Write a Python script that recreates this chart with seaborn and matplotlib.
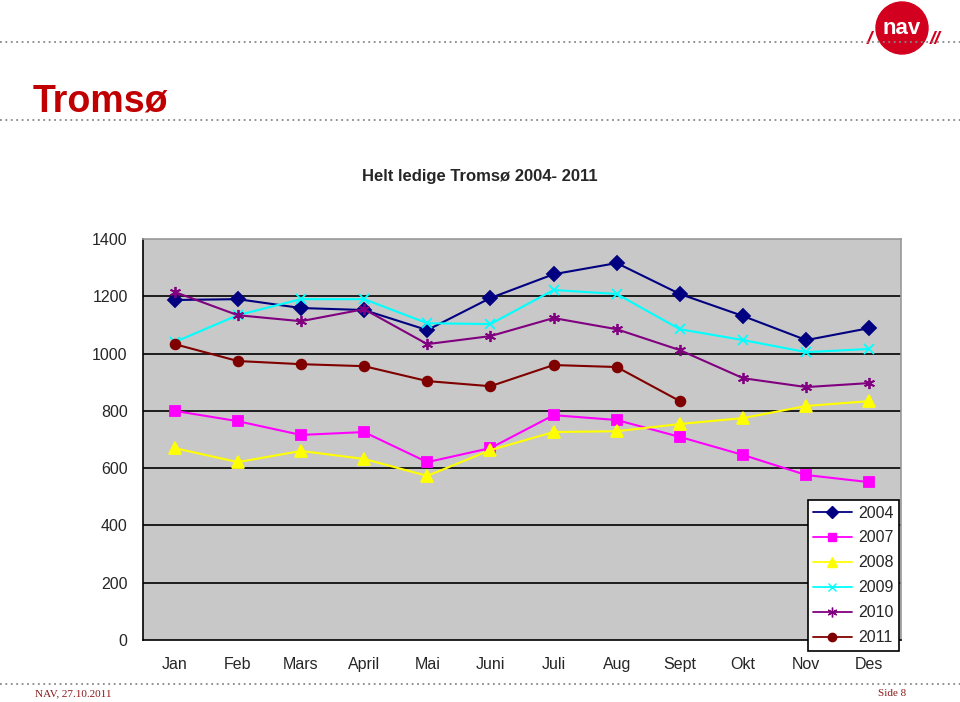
import numpy as np
import pandas as pd
import matplotlib
matplotlib.use("Agg")
import matplotlib.pyplot as plt
import seaborn as sns
from matplotlib.patches import Circle
from matplotlib.lines import Line2D

months = ["Jan", "Feb", "Mars", "April", "Mai", "Juni", "Juli", "Aug", "Sept", "Okt", "Nov", "Des"]
years = ["2004", "2007", "2008", "2009", "2010", "2011"]
v2004 = [1187, 1190, 1159, 1152, 1082, 1194, 1277, 1316, 1208, 1131, 1047, 1089]
v2007 = [800, 764, 716, 726, 621, 670, 785, 768, 709, 646, 576, 551]
v2008 = [670, 621, 660, 632, 573, 663, 726, 729, 754, 775, 817, 834]
v2009 = [1040, 1134, 1190, 1190, 1106, 1103, 1222, 1208, 1085, 1047, 1005, 1016]
v2010 = [1215, 1134, 1113, 1155, 1033, 1061, 1124, 1085, 1012, 914, 883, 897]
v2011 = [1033, 974, 963, 956, 904, 886, 960, 953, 834, None, None, None]
yticks = [0, 200, 400, 600, 800, 1000, 1200, 1400]

series = [v2004, v2007, v2008, v2009, v2010, v2011]
rows = []
for yr, vals in zip(years, series):
    for i, v in enumerate(vals):
        if v is not None:
            rows.append({"x": i, "value": v, "year": yr})
df = pd.DataFrame(rows)

colors = {"2004": "#000080", "2007": "#FF00FF", "2008": "#FFFF00",
          "2009": "#00FFFF", "2010": "#800080", "2011": "#800000"}
markers = {"2004": "D", "2007": "s", "2008": "^", "2009": "x",
           "2010": (6, 2, 0), "2011": "o"}
msizes = {"2004": 7, "2007": 7, "2008": 8, "2009": 7, "2010": 8, "2011": 7}

sns.set_style("white")
plt.rcParams["font.family"] = ["Liberation Sans", "DejaVu Sans"]

fig = plt.figure(figsize=(9.6, 7.02), dpi=100)
ax = fig.add_axes([143 / 960, 1 - 640 / 702, (901 - 143) / 960, (640 - 239) / 702])

for yr in years:
    sub = df[df["year"] == yr]
    sns.lineplot(data=sub, x="x", y="value", color=colors[yr], marker=markers[yr],
                 markersize=msizes[yr], markeredgecolor=colors[yr],
                 markerfacecolor=colors[yr], markeredgewidth=1.3,
                 linewidth=1.5, ax=ax, legend=False, zorder=3)

ax.set_facecolor("#C8C8C8")
ax.set_xlim(-0.5, 11.5)
ax.set_ylim(0, 1400)
ax.set_yticks(yticks)
ax.set_yticklabels([str(t) for t in yticks], fontsize=11.5)
ax.set_xticks(range(12))
ax.set_xticklabels(months, fontsize=11.5)
ax.set_xticks(np.arange(-0.5, 12, 1), minor=True)
ax.tick_params(axis="x", which="major", length=0, pad=12)
ax.tick_params(axis="x", which="minor", length=5, width=1, color="black", direction="out")
ax.tick_params(axis="y", length=5, width=1, color="black", direction="out", pad=6)
ax.set_xlabel("")
ax.set_ylabel("")
for yv in yticks[1:-1]:
    ax.axhline(yv, color="black", linewidth=1.2, zorder=1)
for s in ["left", "bottom"]:
    ax.spines[s].set_color("black")
    ax.spines[s].set_linewidth(1.2)
for s in ["top", "right"]:
    ax.spines[s].set_color("#999999")
    ax.spines[s].set_linewidth(1.2)

handles = [Line2D([0], [0], color=colors[y], marker=markers[y], markersize=msizes[y] - 1,
                  markerfacecolor=colors[y], markeredgecolor=colors[y], linewidth=1.3)
           for y in years]
leg = fig.legend(handles, years, loc="upper right",
                 bbox_to_anchor=(899 / 960, 1 - 500 / 702), fontsize=11.5,
                 frameon=True, fancybox=False, edgecolor="black", framealpha=1,
                 handlelength=2.4, labelspacing=0.62, borderpad=0.35, handletextpad=0.4,
                 borderaxespad=0)
leg.get_frame().set_linewidth(1.2)

fig.text(0.5, 1 - 177 / 702, "Helt ledige Tromsø 2004- 2011", ha="center", va="center",
         fontsize=12, fontweight="bold")
fig.text(33 / 960, 1 - 102 / 702, "Tromsø", ha="left", va="center",
         fontsize=27, fontweight="bold", color="#C00000")

for yy in [42, 120, 684]:
    fig.add_artist(Line2D([0, 1], [1 - yy / 702] * 2, color="#888888", linewidth=1.3,
                          linestyle=(0, (1, 2)), transform=fig.transFigure))

fig.text(35 / 960, 1 - 694 / 702, "NAV, 27.10.2011", ha="left", va="center",
         fontsize=8, color="#8B1A1A", family=["Liberation Serif", "DejaVu Serif"])
fig.text(906 / 960, 1 - 694 / 702, "Side 8", ha="right", va="center",
         fontsize=8, color="#8B1A1A", family=["Liberation Serif", "DejaVu Serif"])

# NAV logo
logo_ax = fig.add_axes([857 / 960, 1 - 56 / 702, 90 / 960, 56 / 702])
logo_ax.set_xlim(0, 90)
logo_ax.set_ylim(0, 56)
logo_ax.set_aspect("equal")
logo_ax.axis("off")
logo_ax.add_patch(Circle((45, 28), 26, color="#D2001E", zorder=2))
logo_ax.text(45, 27, "nav", ha="center", va="center", color="white",
             fontsize=16, fontweight="bold", zorder=3)
logo_ax.text(12, 16, "/", ha="center", va="center", color="#D2001E",
             fontsize=14, fontweight="bold", style="italic")
logo_ax.text(78, 16, "//", ha="center", va="center", color="#D2001E",
             fontsize=14, fontweight="bold", style="italic")

fig.savefig("out.png", dpi=100, facecolor="white")
